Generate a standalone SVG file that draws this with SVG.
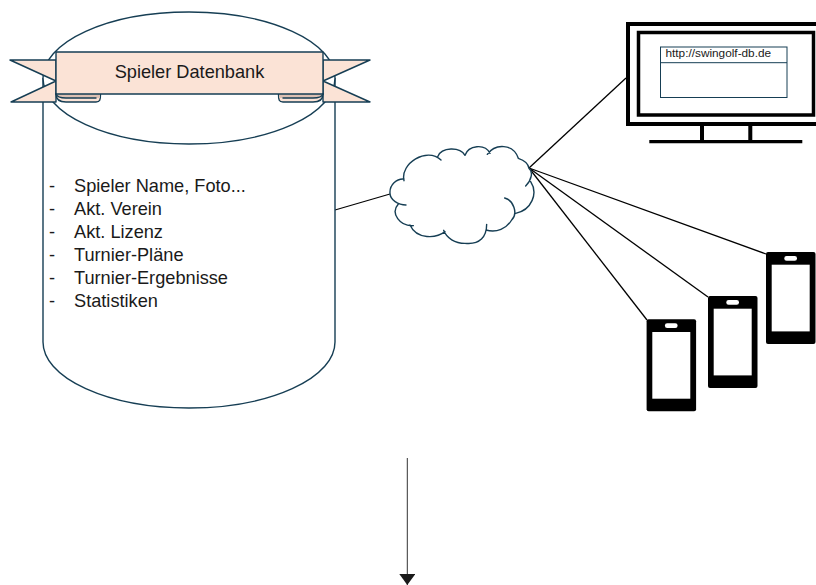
<svg xmlns="http://www.w3.org/2000/svg" width="816" height="585" viewBox="0 0 816 585">
<style>
.o{fill:none;stroke:#163e54;stroke-width:1.4;stroke-linecap:round;stroke-linejoin:round}
.w{fill:#fff;stroke:#163e54;stroke-width:1.4}
.r{fill:#fbe3d6;stroke:#163e54;stroke-width:1.4;stroke-linejoin:round}
.f{fill:#dcc0b3}
.l{fill:none;stroke:#000;stroke-width:1.3}
.k{fill:none;stroke:#000}
.t{font-family:"Liberation Sans",Arial,sans-serif;fill:#1a1a1a}
.p{fill:#000}
.s{fill:#fff}
</style>
<defs>
<marker id="a" markerUnits="userSpaceOnUse" markerWidth="11" markerHeight="16" refX="11" refY="8" orient="auto" viewBox="0 0 11 16"><path d="M0 0L11 8L0 16Z" fill="#1a1a1a"/></marker>
<g id="ph"><rect width="49.500" height="92" rx="2" class="p"/><rect x="5.700" y="12.700" width="38" height="66.700" class="s"/><rect x="18.300" y="4" width="12.700" height="4.700" rx="2.300" class="s"/></g>
</defs>
<g id="connectors">
<line class="l" x1="335" y1="210" x2="390" y2="194"/>
<line class="l" x1="529" y1="168" x2="626" y2="78"/>
<line class="l" x1="529" y1="168" x2="766" y2="254"/>
<line class="l" x1="529" y1="168" x2="708" y2="297"/>
<line class="l" x1="529" y1="168" x2="647" y2="320"/>
<line x1="407.300" y1="458" x2="407.300" y2="585" stroke="#333" stroke-width="1" marker-end="url(#a)"/>
</g>
<g id="database">
<path class="w" d="M43 78V342A146 66 0 0 0 335 342V78"/>
<ellipse class="w" cx="189" cy="78" rx="146" ry="66"/>
<text class="t" font-size="18.200"><tspan x="49" y="192">-</tspan><tspan x="74" y="192">Spieler Name, Foto...</tspan><tspan x="49" y="215">-</tspan><tspan x="74" y="215">Akt. Verein</tspan><tspan x="49" y="238">-</tspan><tspan x="74" y="238">Akt. Lizenz</tspan><tspan x="49" y="261">-</tspan><tspan x="74" y="261">Turnier-Pläne</tspan><tspan x="49" y="284">-</tspan><tspan x="74" y="284">Turnier-Ergebnisse</tspan><tspan x="49" y="307">-</tspan><tspan x="74" y="307">Statistiken</tspan></text>
</g>
<g id="banner">
<path class="r" d="M56 60H10L56 81L11 102H56Z"/>
<path class="r" d="M323 60H370L323 81L370 102H323Z"/>
<path class="r" d="M56 94C56 100 60 102 66 102H96C100 102 100.500 100 100.500 94Z"/>
<path class="r" d="M323 94C323 100 319 102 313 102H283C279 102 278.500 100 278.500 94Z"/>
<path class="f" d="M56 94C57 97 60 98 66 98H100V94ZM323 94C322 97 319 98 313 98H279V94Z"/>
<path class="r" d="M56 52H323V94H56Z"/>
<path class="o" d="M56 94C57 97 60 98 66 98H96M323 94C322 97 319 98 313 98H283"/>
<text class="t" x="189.500" y="78" font-size="18.200" text-anchor="middle">Spieler Datenbank</text>
</g>
<g id="cloud" transform="translate(330 130) scale(.33333)">
<path fill="#fff" d="M180 190C178 165 200 145 222 147C210 100 290 50 325 85C335 50 390 50 405 72C415 45 465 40 475 70C495 40 550 40 565 85C580 90 595 100 597 115C610 125 605 150 600 155C625 190 605 240 557 250C550 270 520 310 468 300C450 345 375 355 343 300C320 325 260 330 240 285C210 290 180 250 205 222C190 212 180 200 180 190Z"/>
<path fill="none" stroke="#163e54" stroke-width="4.200" stroke-linecap="round" d="M180 190C178 165 200 145 222 147M222 152C210 100 290 50 333 90M323 80C335 50 390 50 405 76M405 76C415 45 465 40 480 70M472 73C495 40 550 40 565 85C580 90 595 100 597 115C610 125 605 150 587 168M602 155C625 190 605 240 557 250M524 204C550 210 565 250 545 270C530 295 500 310 468 300M470 283C470 320 450 345 405 340C375 340 350 325 341 301M345 305C320 325 260 330 240 285M250 287C210 290 180 250 205 222M228 225C205 225 180 210 180 190"/>
</g>
<g id="monitor">
<rect class="k" x="628" y="24" width="200" height="100" stroke-width="4"/>
<rect class="k" x="638.500" y="32.500" width="175" height="82.500" stroke-width="3.500"/>
<path class="k" d="M702 125V140M750.300 125V140" stroke-width="4"/>
<path class="k" d="M649.300 141.700H802.300" stroke-width="3.300"/>
<rect x="660.500" y="47" width="126.500" height="50.500" fill="#fff" stroke="#163e54" stroke-width="1"/>
<line x1="660.500" y1="62.700" x2="787" y2="62.700" stroke="#163e54"/>
<text class="t" x="665.500" y="57" font-size="11.800">http://swingolf-db.de</text>
</g>
<g id="phone1"><use href="#ph" x="646.600" y="319.300"/></g>
<g id="phone2"><use href="#ph" x="708" y="296"/></g>
<g id="phone3"><use href="#ph" x="766" y="252"/></g>
</svg>
